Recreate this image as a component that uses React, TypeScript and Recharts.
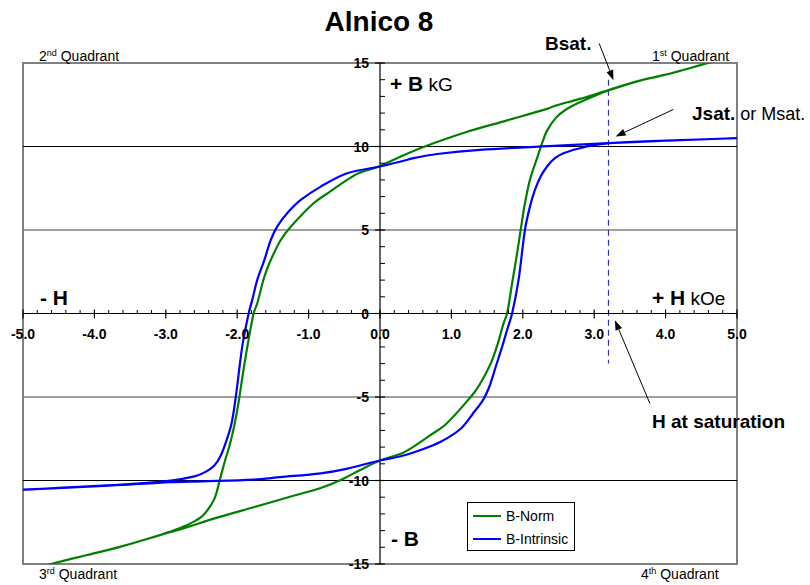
import React from 'react';
import {
  LineChart,
  Line,
  XAxis,
  YAxis,
  ReferenceLine,
  ReferenceDot,
  ReferenceArea,
  Legend,
} from 'recharts';

const FONT = '"Liberation Sans", Arial, Helvetica, sans-serif';

// ---- data: [H (kOe), B (kG)] ----
const normDescending: [number, number][] = [
  [5.0, 15.45], [4.6, 15.0], [4.0, 14.3], [3.6, 13.9], [3.2, 13.38], [2.8, 12.85],
  [2.46, 12.45], [2.34, 12.25], [1.77, 11.55], [1.2, 10.85], [0.61, 9.97], [0.29, 9.4],
  [0.0, 8.83], [-0.3, 8.4], [-0.46, 8.0], [-0.7, 7.3], [-0.93, 6.6], [-1.25, 5.2], [-1.39, 4.4],
  [-1.53, 3.2], [-1.62, 2.2], [-1.72, 0.6], [-1.77, 0.0], [-1.85, -1.8], [-1.92, -3.6],
  [-1.98, -5.3], [-2.04, -6.7], [-2.1, -7.8], [-2.17, -8.8], [-2.24, -9.9], [-2.32, -11.1],
  [-2.46, -12.0], [-2.6, -12.45], [-2.8, -12.85], [-3.07, -13.25], [-3.63, -13.96],
  [-4.1, -14.46], [-4.61, -15.0], [-5.0, -15.45],
];
const normAscending: [number, number][] = [
  [-5.0, -15.45], [-4.61, -15.0], [-4.1, -14.46], [-3.63, -13.96], [-3.07, -13.26],
  [-2.7, -12.8], [-2.34, -12.3], [-1.77, -11.6], [-1.2, -10.9], [-0.83, -10.45],
  [-0.55, -9.97], [-0.29, -9.4], [0.0, -8.8], [0.3, -8.38], [0.46, -8.0], [0.7, -7.3], [0.93, -6.6],
  [1.27, -5.0], [1.39, -4.3], [1.55, -3.0], [1.65, -1.8], [1.73, -0.6], [1.78, 0.0],
  [1.85, 1.8], [1.92, 3.6], [1.97, 5.0], [2.03, 6.6], [2.1, 8.0], [2.2, 9.3], [2.27, 10.2],
  [2.34, 10.95], [2.46, 11.7], [2.6, 12.2], [2.8, 12.65], [3.07, 13.15], [3.2, 13.35],
  [3.6, 13.9], [4.0, 14.3], [4.6, 15.0], [5.0, 15.45],
];
const intrinsicDescending: [number, number][] = [
  [5.0, 10.5], [4.0, 10.35], [3.2, 10.2], [2.5, 10.05], [1.4, 9.8], [0.8, 9.55],
  [0.47, 9.3], [0.29, 9.1], [0.0, 8.8], [-0.46, 8.4], [-0.83, 7.6], [-1.11, 6.8],
  [-1.3, 6.0], [-1.44, 5.2], [-1.53, 4.4], [-1.62, 3.2], [-1.72, 2.0], [-1.79, 0.8],
  [-1.84, 0.0], [-1.93, -2.0], [-2.02, -5.0], [-2.08, -6.6], [-2.15, -7.6], [-2.23, -8.5],
  [-2.32, -9.1], [-2.45, -9.5], [-2.6, -9.75], [-2.93, -10.0], [-3.63, -10.25],
  [-4.3, -10.4], [-5.0, -10.55],
];
const intrinsicAscending: [number, number][] = [
  [-5.0, -10.55], [-4.3, -10.42], [-3.63, -10.27], [-2.93, -10.1], [-2.5, -10.05],
  [-1.77, -9.95], [-1.4, -9.8], [-0.83, -9.57], [-0.47, -9.3], [0.0, -8.8], [0.29, -8.55],
  [0.55, -8.2], [0.85, -7.68], [1.13, -6.9], [1.3, -6.0], [1.44, -5.2], [1.53, -4.4],
  [1.62, -3.2], [1.71, -2.0], [1.78, -0.99], [1.85, 0.0], [1.94, 2.0], [2.03, 5.0], [2.1, 6.4],
  [2.17, 7.4], [2.25, 8.2], [2.34, 8.8], [2.45, 9.3], [2.57, 9.6], [2.9, 10.0], [3.22, 10.2],
  [4.0, 10.35], [5.0, 10.5],
];

const xMajorTicks = [-5, -4, -3, -2, -1, 0, 1, 2, 3, 4, 5];
const xTickLabels = ['-5.0', '-4.0', '-3.0', '-2.0', '-1.0', '0.0', '1.0', '2.0', '3.0', '4.0', '5.0'];
const yMajorTicks = [-15, -10, -5, 0, 5, 10, 15];
const yTickLabels = ['-15', '-10', '-5', '0', '5', '10', '15'];
const gridBlack = [10, -10];
const gridGray = [5, -5];
const hSaturation = 3.2;

const seriesNames = ['B-Norm', 'B-Intrinsic'];
const seriesColors = ['#008000', '#0000ff'];

const toPts = (arr: [number, number][]) => arr.map(([H, B]) => ({ H, B }));
const normLoop = toPts([...normDescending, ...normAscending.slice(1)]);
const intrinsicLoop = toPts([...intrinsicDescending, ...intrinsicAscending.slice(1)]);

const xMinor: number[] = [];
for (let i = -25; i <= 25; i++) if (i % 5 !== 0) xMinor.push(i / 5);
const yMinor: number[] = [];
for (let i = -15; i <= 15; i++) if (i % 5 !== 0) yMinor.push(i);

// smooth parametric curve (chord-length Catmull-Rom) usable for loops
const smoothCurve: any = (context: any) => {
  let pts: [number, number][] = [];
  return {
    areaStart() {},
    areaEnd() {},
    lineStart() {
      pts = [];
    },
    point(x: number, y: number) {
      pts.push([+x, +y]);
    },
    lineEnd() {
      if (!pts.length) return;
      context.moveTo(pts[0][0], pts[0][1]);
      const d = (a: [number, number], b: [number, number]) => Math.hypot(b[0] - a[0], b[1] - a[1]) || 1e-6;
      const tan = (i: number): [number, number] => {
        const p0 = pts[Math.max(i - 1, 0)];
        const p2 = pts[Math.min(i + 1, pts.length - 1)];
        const p1 = pts[i];
        const dd = d(p0, p1) + d(p1, p2);
        return [(p2[0] - p0[0]) / dd, (p2[1] - p0[1]) / dd];
      };
      for (let i = 0; i < pts.length - 1; i++) {
        const p1 = pts[i];
        const p2 = pts[i + 1];
        const L = d(p1, p2);
        const t1 = tan(i);
        const t2 = tan(i + 1);
        context.bezierCurveTo(
          p1[0] + (t1[0] * L) / 3,
          p1[1] + (t1[1] * L) / 3,
          p2[0] - (t2[0] * L) / 3,
          p2[1] - (t2[1] * L) / 3,
          p2[0],
          p2[1],
        );
      }
    },
  };
};

const XMajorShape = (label: string) => (p: any) => (
  <g>
    <line x1={p.cx} y1={p.cy - 4} x2={p.cx} y2={p.cy + 5} stroke="#000" strokeWidth={1.2} />
    <text x={p.cx} y={p.cy + 25} textAnchor="middle" fontFamily={FONT} fontWeight="bold" fontSize={14} fill="#000">
      {label}
    </text>
  </g>
);
const XMinorShape = (p: any) => (
  <line x1={p.cx} y1={p.cy - 3.5} x2={p.cx} y2={p.cy} stroke="#000" strokeWidth={1} />
);
const YMajorShape = (label: string) => (p: any) => (
  <g>
    <line x1={p.cx - 5} y1={p.cy} x2={p.cx + 5} y2={p.cy} stroke="#000" strokeWidth={1.2} />
    <text x={p.cx - 11} y={p.cy + 5} textAnchor="end" fontFamily={FONT} fontWeight="bold" fontSize={14} fill="#000">
      {label}
    </text>
  </g>
);
const YMinorShape = (p: any) => (
  <line x1={p.cx} y1={p.cy} x2={p.cx + 5} y2={p.cy} stroke="#000" strokeWidth={1} />
);

const ArrowShape = (p: any) => {
  const { x1, y1, x2, y2 } = p;
  const dx = x2 - x1;
  const dy = y2 - y1;
  const len = Math.hypot(dx, dy) || 1;
  const ux = dx / len;
  const uy = dy / len;
  const L = 10;
  const W = 3.5;
  const bx = x2 - ux * L;
  const by = y2 - uy * L;
  const pts = `${x2},${y2} ${bx - uy * W},${by + ux * W} ${bx + uy * W},${by - ux * W}`;
  return (
    <g>
      <line x1={x1} y1={y1} x2={bx} y2={by} stroke="#000" strokeWidth={1} />
      <polygon points={pts} fill="#000" />
    </g>
  );
};

const renderLegend = () => (
  <div
    style={{
      width: 108,
      height: 49,
      boxSizing: 'border-box',
      border: '1px solid #000',
      background: '#fff',
      fontFamily: FONT,
      fontSize: 14,
      color: '#000',
      paddingTop: 1,
    }}
  >
    {seriesNames.map((name, i) => (
      <div key={name} style={{ display: 'flex', alignItems: 'center', height: 23 }}>
        <span
          style={{ display: 'inline-block', width: 28, height: 2, background: seriesColors[i], marginLeft: 5, marginRight: 5 }}
        />
        <span>{name}</span>
      </div>
    ))}
  </div>
);

const labelBold = { fontFamily: FONT, fontWeight: 'bold' as const, fill: '#000' };

export default function App() {
  return (
    <div style={{ position: 'absolute', left: 0, top: 0, width: 810, height: 585, background: '#fff' }}>
      <LineChart width={810} height={585} margin={{ top: 63, right: 73, bottom: 21, left: 23 }}>
        <XAxis dataKey="H" type="number" domain={[-5, 5]} allowDataOverflow hide />
        <YAxis dataKey="B" type="number" domain={[-15, 15]} allowDataOverflow hide />
        {gridGray.map((v) => (
          <ReferenceLine key={'gg' + v} y={v} stroke="#808080" strokeWidth={1.5} />
        ))}
        {gridBlack.map((v) => (
          <ReferenceLine key={'gb' + v} y={v} stroke="#000" strokeWidth={1} />
        ))}
        <ReferenceArea x1={-5} x2={5} y1={-15} y2={15} fill="none" fillOpacity={0} stroke="#808080" strokeWidth={2} />
        <ReferenceLine x={0} stroke="#000" strokeWidth={1.2} />
        <ReferenceLine y={0} stroke="#000" strokeWidth={1.2} />
        {xMinor.map((v) => (
          <ReferenceDot key={'xm' + v} x={v} y={0} r={0} shape={XMinorShape} />
        ))}
        {yMinor.map((v) => (
          <ReferenceDot key={'ym' + v} x={0} y={v} r={0} shape={YMinorShape} />
        ))}
        {xMajorTicks.map((v, i) => (
          <ReferenceDot key={'xM' + v} x={v} y={0} r={0} ifOverflow="visible" shape={XMajorShape(xTickLabels[i])} />
        ))}
        {yMajorTicks.map((v, i) => (
          <ReferenceDot key={'yM' + v} x={0} y={v} r={0} ifOverflow="visible" shape={YMajorShape(yTickLabels[i])} />
        ))}
        <ReferenceLine
          segment={[{ x: hSaturation, y: 14 }, { x: hSaturation, y: -3 }]}
          stroke="#3030c0"
          strokeWidth={1.2}
          strokeDasharray="6 4"
        />
        <Line
          data={normLoop}
          dataKey="B"
          name={seriesNames[0]}
          stroke={seriesColors[0]}
          strokeWidth={2.2}
          dot={false}
          type={smoothCurve}
          isAnimationActive={false}
        />
        <Line
          data={intrinsicLoop}
          dataKey="B"
          name={seriesNames[1]}
          stroke={seriesColors[1]}
          strokeWidth={2.2}
          dot={false}
          type={smoothCurve}
          isAnimationActive={false}
        />
        <ReferenceLine segment={[{ x: 3.07, y: 16.17 }, { x: 3.27, y: 13.97 }]} ifOverflow="visible" shape={ArrowShape} />
        <ReferenceLine segment={[{ x: 4.11, y: 12.22 }, { x: 3.3, y: 10.6 }]} ifOverflow="visible" shape={ArrowShape} />
        <ReferenceLine segment={[{ x: 3.78, y: -5.39 }, { x: 3.29, y: -0.4 }]} ifOverflow="visible" shape={ArrowShape} />
        <Legend
          layout="vertical"
          align="center"
          verticalAlign="middle"
          content={renderLegend}
          wrapperStyle={{ left: 467, top: 502, width: 108, height: 49 }}
        />
      </LineChart>
      <svg
        width={810}
        height={585}
        style={{ position: 'absolute', left: 0, top: 0, pointerEvents: 'none' }}
      >
        <text x={379} y={31} textAnchor="middle" {...labelBold} fontSize={28}>Alnico 8</text>
        <text x={39} y={61} fontFamily={FONT} fontSize={14} fill="#000">
          2<tspan fontSize={9} dy={-5}>nd</tspan><tspan dy={5}> Quadrant</tspan>
        </text>
        <text x={652} y={61} fontFamily={FONT} fontSize={14} fill="#000">
          1<tspan fontSize={9} dy={-5}>st</tspan><tspan dy={5}> Quadrant</tspan>
        </text>
        <text x={39} y={579} fontFamily={FONT} fontSize={14} fill="#000">
          3<tspan fontSize={9} dy={-5}>rd</tspan><tspan dy={5}> Quadrant</tspan>
        </text>
        <text x={641} y={579} fontFamily={FONT} fontSize={14} fill="#000">
          4<tspan fontSize={9} dy={-5}>th</tspan><tspan dy={5}> Quadrant</tspan>
        </text>
        <text x={390} y={91} {...labelBold} fontSize={21}>
          + B<tspan fontWeight="normal" fontSize={19}> kG</tspan>
        </text>
        <text x={391} y={546} {...labelBold} fontSize={21}>- B</text>
        <text x={40} y={305} {...labelBold} fontSize={21}>- H</text>
        <text x={652} y={305} {...labelBold} fontSize={21}>
          + H<tspan fontWeight="normal" fontSize={19}> kOe</tspan>
        </text>
        <text x={545} y={50} {...labelBold} fontSize={19}>Bsat.</text>
        <text x={692} y={120} {...labelBold} fontSize={19}>
          Jsat.<tspan fontWeight="normal" fontSize={18}> or Msat.</tspan>
        </text>
        <text x={652} y={428} {...labelBold} fontSize={19}>H at saturation</text>
      </svg>
    </div>
  );
}
